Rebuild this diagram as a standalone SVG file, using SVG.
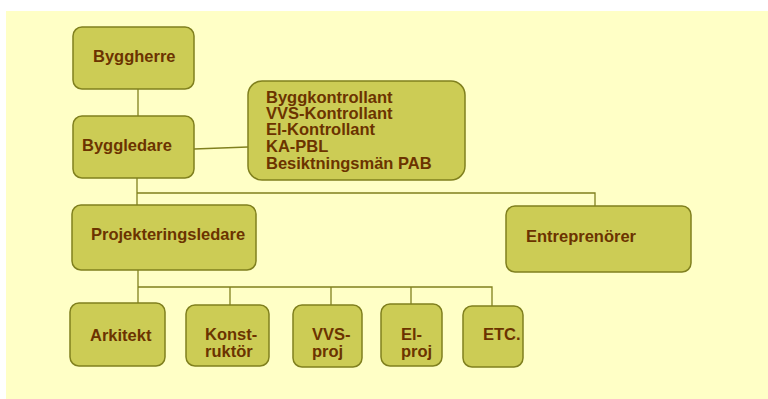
<svg xmlns="http://www.w3.org/2000/svg" width="768" height="399" viewBox="0 0 768 399">
  <style>
    .box { fill: #cccc55; stroke: #80801e; stroke-width: 1.5; }
    .wire { fill: none; stroke: #80801e; stroke-width: 1.3; }
    .lbl { font-family: "Liberation Sans", Arial, sans-serif; font-weight: bold; font-size: 16.5px; fill: #6b3300; }
  </style>
  <rect x="0" y="0" width="768" height="399" fill="#ffffff"/>
  <rect x="6" y="11" width="762" height="388" fill="#ffffc6"/>

  <g id="connectors">
    <line class="wire" x1="138" y1="89" x2="138" y2="116"/>
    <line class="wire" x1="194" y1="149" x2="248" y2="147"/>
    <polyline class="wire" points="137,178 137,205"/>
    <polyline class="wire" points="137,193 595,193 595,206"/>
    <polyline class="wire" points="138,270 138,303"/>
    <polyline class="wire" points="138,287 492,287 492,306"/>
    <line class="wire" x1="230" y1="287" x2="230" y2="305"/>
    <line class="wire" x1="331" y1="287" x2="331" y2="305"/>
    <line class="wire" x1="411" y1="287" x2="411" y2="304"/>
  </g>

  <g id="byggherre">
    <rect class="box" x="73" y="27" width="121" height="62" rx="9"/>
    <text class="lbl" x="93" y="62">Byggherre</text>
  </g>

  <g id="byggledare">
    <rect class="box" x="73" y="116" width="121" height="62" rx="9"/>
    <text class="lbl" x="82" y="151">Byggledare</text>
  </g>

  <g id="kontroll">
    <rect class="box" x="248" y="81" width="217" height="99" rx="14"/>
    <text class="lbl" x="266" y="103">Byggkontrollant</text>
    <text class="lbl" x="266" y="119">VVS-Kontrollant</text>
    <text class="lbl" x="266" y="135">El-Kontrollant</text>
    <text class="lbl" x="266" y="152">KA-PBL</text>
    <text class="lbl" x="266" y="169">Besiktningsmän PAB</text>
  </g>

  <g id="projekteringsledare">
    <rect class="box" x="72" y="205" width="184" height="65" rx="9"/>
    <text class="lbl" x="91" y="240">Projekteringsledare</text>
  </g>

  <g id="entreprenorer">
    <rect class="box" x="506" y="206" width="185" height="66" rx="9"/>
    <text class="lbl" x="526" y="242">Entreprenörer</text>
  </g>

  <g id="arkitekt">
    <rect class="box" x="70" y="303" width="95" height="63" rx="9"/>
    <text class="lbl" x="90" y="341">Arkitekt</text>
  </g>

  <g id="konstruktor">
    <rect class="box" x="186" y="305" width="83" height="61" rx="9"/>
    <text class="lbl" x="205" y="340">Konst-</text>
    <text class="lbl" x="205" y="357">ruktör</text>
  </g>

  <g id="vvs-proj">
    <rect class="box" x="293" y="305" width="69" height="62" rx="9"/>
    <text class="lbl" x="312" y="340">VVS-</text>
    <text class="lbl" x="312" y="357">proj</text>
  </g>

  <g id="el-proj">
    <rect class="box" x="381" y="304" width="61" height="62" rx="9"/>
    <text class="lbl" x="401" y="340">El-</text>
    <text class="lbl" x="401" y="357">proj</text>
  </g>

  <g id="etc">
    <rect class="box" x="463" y="306" width="60" height="61" rx="9"/>
    <text class="lbl" x="483" y="340">ETC.</text>
  </g>
</svg>
